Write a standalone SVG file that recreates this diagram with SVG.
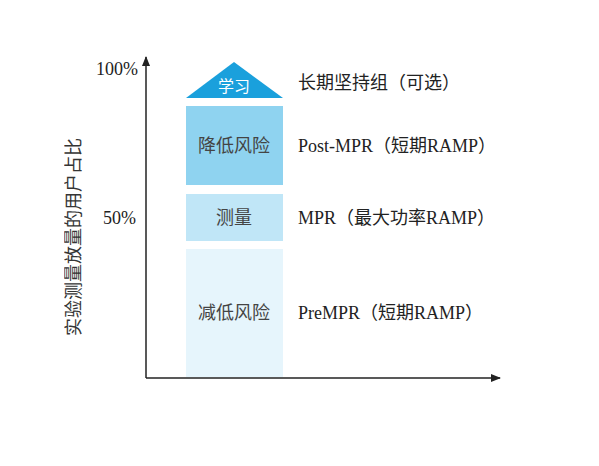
<svg xmlns="http://www.w3.org/2000/svg" width="599" height="466" viewBox="0 0 599 466">
<defs>
<marker id="arr" markerWidth="10" markerHeight="8" refX="9" refY="4" orient="auto" markerUnits="userSpaceOnUse">
<path d="M0,0 L10,4 L0,8 z" fill="#222"/>
</marker>
</defs>
<style>
.t{font-family:"Liberation Serif","Noto Sans CJK SC",serif;font-size:18px;fill:#222}
.c{font-family:"Liberation Serif","Noto Sans CJK SC",serif;font-size:18px;fill:#444;text-anchor:middle}
.w{font-family:"Noto Sans CJK SC",sans-serif;font-size:16px;fill:#fff;text-anchor:middle}
.ax{stroke:#222;stroke-width:1.5;fill:none}
</style>
<rect width="599" height="466" fill="#fff"/>
<g id="connectors">
<line class="ax" x1="146" y1="378" x2="146" y2="57" marker-end="url(#arr)"/>
<line class="ax" x1="146" y1="378" x2="500" y2="378" marker-end="url(#arr)"/>
</g>
<g id="axis-labels">
<text class="t" x="96" y="75" font-size="16">100%</text>
<text class="t" x="103" y="224" font-size="16">50%</text>
<g opacity="0.99">
<text class="t" transform="translate(80,237) rotate(-90)" text-anchor="middle" font-size="19" style="fill:#333">实验测量放量的用户占比</text>
</g>
</g>
<g id="learn">
<polygon points="234,62 186,98 283,98" fill="#1aa0dc"/>
<text class="w" x="234" y="92">学习</text>
</g>
<g id="reduce-risk-post">
<rect x="186" y="106" width="97" height="79" fill="#8fd3f0"/>
<text class="c" x="234" y="152">降低风险</text>
</g>
<g id="measure">
<rect x="186" y="194" width="97" height="47" fill="#c0e6f7"/>
<text class="c" x="234" y="224">测量</text>
</g>
<g id="reduce-risk-pre">
<rect x="186" y="249" width="97" height="128" fill="#e6f5fc"/>
<text class="c" x="234" y="319">减低风险</text>
</g>
<g id="right-labels">
<text class="t" x="298" y="89">长期坚持组（可选）</text>
<text class="t" x="298" y="152">Post-MPR（短期RAMP）</text>
<text class="t" x="298" y="224">MPR（最大功率RAMP）</text>
<text class="t" x="298" y="319">PreMPR（短期RAMP）</text>
</g>
</svg>
